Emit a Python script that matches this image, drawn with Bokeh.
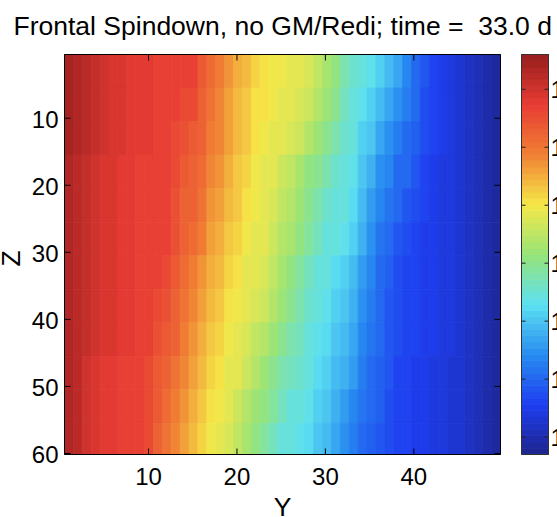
import numpy as np
from bokeh.plotting import figure
from bokeh.models import Range1d, ColumnDataSource, LinearColorMapper
from bokeh.embed import file_html
from bokeh.resources import INLINE
from bokeh.core.properties import value

# ---------------- data ----------------
title_text = "Frontal Spindown, no GM/Redi; time =  33.0 d"
x_label, z_label = "Y", "Z"
y_ticks = [10, 20, 30, 40]
z_ticks = [10, 20, 30, 40, 50, 60]
cbar_ticks = [11, 12, 13, 14, 15, 16, 17]
cbar_tick_labels = ["11", "12", "13", "14", "15", "16", "17"]
T_LOW, T_HIGH = 10.7, 17.6

# grid: 49 columns in Y, 12 depth bands in Z
y_edges = list(np.linspace(0.5, 49.8, 50))
z_edges = [0.5, 5.5, 10.5, 15.5, 20.5, 25.5, 30.5, 35.5, 40.5, 45.5, 50.5, 55.5, 60.5]

# temperature for each Y column (1..49), listed from the top band to the bottom band
temp_by_column = [
    [17.4, 17.4, 17.4, 17.3, 17.3, 17.3, 17.3, 17.3, 17.3, 17.3, 17.3, 17.3],
    [17.3, 17.3, 17.3, 17.2, 17.2, 17.2, 17.2, 17.2, 17.2, 17.2, 17.2, 17.2],
    [17.2, 17.2, 17.2, 17.1, 17.1, 17.1, 17.1, 17.1, 17.1, 17.0, 17.0, 17.0],
    [17.1, 17.1, 17.1, 17.0, 17.0, 17.0, 17.0, 17.0, 17.0, 16.9, 16.9, 16.9],
    [17.0, 17.0, 17.0, 16.9, 16.9, 16.9, 16.9, 16.9, 16.9, 16.8, 16.8, 16.8],
    [16.9, 16.9, 16.9, 16.9, 16.9, 16.9, 16.9, 16.9, 16.9, 16.8, 16.8, 16.8],
    [16.9, 16.9, 16.9, 16.8, 16.8, 16.8, 16.8, 16.8, 16.8, 16.7, 16.7, 16.7],
    [16.8, 16.8, 16.8, 16.8, 16.8, 16.8, 16.8, 16.8, 16.8, 16.7, 16.7, 16.7],
    [16.8, 16.8, 16.8, 16.7, 16.7, 16.7, 16.7, 16.7, 16.7, 16.7, 16.7, 16.7],
    [16.8, 16.8, 16.8, 16.7, 16.7, 16.7, 16.7, 16.7, 16.7, 16.6, 16.6, 16.6],
    [16.7, 16.7, 16.7, 16.7, 16.7, 16.7, 16.7, 16.6, 16.5, 16.4, 16.4, 16.3],
    [16.7, 16.7, 16.7, 16.7, 16.7, 16.7, 16.6, 16.5, 16.4, 16.2, 16.1, 16.0],
    [16.7, 16.7, 16.6, 16.6, 16.5, 16.5, 16.4, 16.3, 16.2, 16.0, 15.9, 15.8],
    [16.7, 16.6, 16.5, 16.4, 16.3, 16.2, 16.1, 16.0, 15.9, 15.8, 15.7, 15.6],
    [16.7, 16.6, 16.4, 16.3, 16.2, 16.1, 15.9, 15.8, 15.7, 15.6, 15.5, 15.4],
    [16.4, 16.3, 16.2, 16.1, 16.0, 15.9, 15.7, 15.6, 15.5, 15.4, 15.3, 15.2],
    [16.1, 16.0, 15.9, 15.8, 15.7, 15.6, 15.5, 15.4, 15.3, 15.2, 15.1, 15.0],
    [15.9, 15.8, 15.8, 15.7, 15.6, 15.5, 15.4, 15.3, 15.2, 15.1, 15.0, 14.9],
    [15.7, 15.6, 15.6, 15.5, 15.4, 15.3, 15.2, 15.1, 15.0, 14.9, 14.8, 14.7],
    [15.5, 15.4, 15.4, 15.3, 15.3, 15.2, 15.1, 15.0, 14.9, 14.8, 14.6, 14.5],
    [15.4, 15.3, 15.3, 15.2, 15.1, 15.0, 14.9, 14.8, 14.7, 14.6, 14.4, 14.3],
    [15.2, 15.1, 15.1, 15.0, 15.0, 14.9, 14.8, 14.7, 14.5, 14.4, 14.2, 14.1],
    [15.1, 15.1, 15.0, 14.9, 14.9, 14.8, 14.7, 14.6, 14.4, 14.2, 14.1, 13.9],
    [15.0, 15.0, 14.9, 14.8, 14.7, 14.6, 14.5, 14.4, 14.2, 14.0, 13.9, 13.7],
    [15.0, 14.9, 14.8, 14.6, 14.5, 14.4, 14.3, 14.2, 14.0, 13.8, 13.7, 13.5],
    [14.9, 14.8, 14.7, 14.5, 14.4, 14.3, 14.1, 14.0, 13.8, 13.7, 13.5, 13.4],
    [14.9, 14.7, 14.6, 14.3, 14.2, 14.1, 13.9, 13.8, 13.7, 13.6, 13.4, 13.3],
    [14.7, 14.6, 14.4, 14.1, 14.0, 13.9, 13.7, 13.6, 13.5, 13.4, 13.3, 13.2],
    [14.5, 14.4, 14.2, 14.0, 13.8, 13.7, 13.5, 13.4, 13.3, 13.2, 13.1, 13.0],
    [14.3, 14.2, 14.0, 13.8, 13.6, 13.5, 13.4, 13.3, 13.2, 13.1, 13.0, 12.9],
    [14.1, 14.0, 13.8, 13.6, 13.5, 13.4, 13.2, 13.1, 13.0, 12.9, 12.8, 12.7],
    [13.8, 13.7, 13.6, 13.5, 13.4, 13.3, 13.1, 13.0, 12.9, 12.8, 12.6, 12.5],
    [13.6, 13.5, 13.4, 13.3, 13.2, 13.1, 12.9, 12.8, 12.7, 12.6, 12.4, 12.3],
    [13.4, 13.3, 13.1, 13.0, 12.9, 12.8, 12.6, 12.5, 12.4, 12.3, 12.2, 12.1],
    [13.3, 13.1, 13.0, 12.8, 12.6, 12.5, 12.4, 12.3, 12.2, 12.1, 12.0, 11.9],
    [13.1, 12.9, 12.7, 12.5, 12.4, 12.2, 12.1, 12.0, 12.0, 11.9, 11.9, 11.8],
    [12.9, 12.7, 12.5, 12.4, 12.2, 12.0, 11.9, 11.8, 11.8, 11.8, 11.7, 11.7],
    [12.7, 12.5, 12.3, 12.1, 12.0, 11.8, 11.7, 11.7, 11.7, 11.6, 11.6, 11.6],
    [12.4, 12.3, 12.1, 12.0, 11.8, 11.7, 11.6, 11.6, 11.6, 11.6, 11.6, 11.6],
    [12.1, 12.0, 11.9, 11.8, 11.7, 11.6, 11.6, 11.6, 11.6, 11.5, 11.5, 11.5],
    [11.8, 11.7, 11.7, 11.6, 11.6, 11.5, 11.5, 11.5, 11.5, 11.5, 11.5, 11.5],
    [11.6, 11.6, 11.6, 11.5, 11.5, 11.5, 11.5, 11.5, 11.5, 11.4, 11.4, 11.4],
    [11.5, 11.5, 11.5, 11.4, 11.4, 11.4, 11.4, 11.4, 11.4, 11.4, 11.4, 11.4],
    [11.4, 11.4, 11.4, 11.4, 11.4, 11.4, 11.4, 11.4, 11.4, 11.3, 11.3, 11.3],
    [11.3, 11.3, 11.3, 11.3, 11.3, 11.3, 11.3, 11.3, 11.3, 11.3, 11.3, 11.3],
    [11.2, 11.2, 11.2, 11.2, 11.2, 11.2, 11.2, 11.2, 11.2, 11.2, 11.2, 11.2],
    [11.1, 11.1, 11.1, 11.1, 11.1, 11.1, 11.1, 11.1, 11.1, 11.1, 11.1, 11.1],
    [11.0, 11.0, 11.0, 11.0, 11.0, 11.0, 11.0, 11.0, 11.0, 11.0, 11.0, 11.0],
    [10.9, 10.9, 10.9, 10.9, 10.9, 10.9, 10.9, 10.9, 10.9, 10.9, 10.9, 10.9],
]

# ---------------- layout / styling ----------------
FONT = "Liberation Sans"
W, H = 557, 517
BOX_L, BOX_R, BOX_T, BOX_B = 64, 500, 54, 454   # image box in canvas pixels
Y0, Y1 = 0.5, 49.8                              # image extent in Y
Z0, Z1 = 0.5, 60.15                             # axis extent in Z
PX_PER_Y = (BOX_R - BOX_L) / (Y1 - Y0)
PX_PER_Z = (BOX_B - BOX_T) / (Z1 - Z0)
X_START = Y0 - BOX_L / PX_PER_Y
X_END = Y0 + (W - BOX_L) / PX_PER_Y
Z_TOP = Z0 - BOX_T / PX_PER_Z
Z_BOTTOM = Z0 + (H - BOX_T) / PX_PER_Z

def px_x(px):
    return X_START + px / PX_PER_Y

def px_z(py):
    return Z_TOP + py / PX_PER_Z

# jet-like palette, as it appears in the reference
anc_f = [0, .125, .25, .375, .5, .625, .75, .875, 1]
anc_c = [(30, 36, 140), (30, 62, 240), (40, 140, 240), (92, 224, 242), (150, 228, 120),
         (246, 232, 72), (240, 128, 52), (232, 60, 52), (150, 30, 30)]
palette = []
for i in range(64):
    f = (i + 0.5) / 64
    r, g, b = (int(round(np.interp(f, anc_f, [c[k] for c in anc_c]))) for k in range(3))
    palette.append("#%02x%02x%02x" % (r, g, b))
mapper = LinearColorMapper(palette=palette, low=T_LOW, high=T_HIGH)

p = figure(width=W, height=H, output_backend="svg", toolbar_location=None,
           x_range=Range1d(X_START, X_END), y_range=Range1d(Z_BOTTOM, Z_TOP),
           x_axis_location=None, y_axis_location=None, title_location=None,
           min_border=0, min_border_left=0, min_border_right=0,
           min_border_top=0, min_border_bottom=0)
p.outline_line_color = None
p.background_fill_color = "white"
p.border_fill_color = "white"
p.xgrid.visible = False
p.ygrid.visible = False
for g in list(p.center):
    g.visible = False

# field cells
left, right, top, bottom, temp = [], [], [], [], []
for j, col in enumerate(temp_by_column):
    for k, t in enumerate(col):
        left.append(y_edges[j]); right.append(y_edges[j + 1])
        top.append(z_edges[k]); bottom.append(min(z_edges[k + 1], Z1))
        temp.append(t)
src = ColumnDataSource(dict(left=left, right=right, top=top, bottom=bottom, T=temp))
p.quad(left="left", right="right", top="top", bottom="bottom", source=src,
       fill_color={"field": "T", "transform": mapper},
       line_color={"field": "T", "transform": mapper}, line_width=0.8)

# image box and tick marks on all four sides (pointing inwards)
p.quad(left=[Y0], right=[Y1], top=[Z0], bottom=[Z1], fill_color=None,
       line_color="black", line_width=1)
tick_y = 6 / PX_PER_Y
tick_z = 6 / PX_PER_Z
ny, nz = len(y_ticks), len(z_ticks)
p.segment(x0=y_ticks, x1=y_ticks, y0=[Z0] * ny, y1=[Z0 + tick_z] * ny, line_color="black")
p.segment(x0=y_ticks, x1=y_ticks, y0=[Z1] * ny, y1=[Z1 - tick_z] * ny, line_color="black")
p.segment(x0=[Y0] * nz, x1=[Y0 + tick_y] * nz, y0=z_ticks, y1=z_ticks, line_color="black")
p.segment(x0=[Y1] * nz, x1=[Y1 - tick_y] * nz, y0=z_ticks, y1=z_ticks, line_color="black")

# tick labels (vertically centred on their positions)
fs = value("24px")
p.text(x=y_ticks, y=[px_z(476)] * ny, text=[str(t) for t in y_ticks],
       text_font=value(FONT), text_font_size=fs, text_align="center",
       text_baseline="middle", text_color="black")
p.text(x=[px_x(58)] * nz, y=[z + 1.5 / PX_PER_Z for z in z_ticks], text=[str(t) for t in z_ticks],
       text_font=value(FONT), text_font_size=fs, text_align="right",
       text_baseline="middle", text_color="black")

# colour bar
cb_l, cb_r = px_x(521), px_x(548)
def t_to_z(t):
    return Z1 - (t - T_LOW) / (T_HIGH - T_LOW) * (Z1 - Z0)
lv = np.linspace(T_LOW, T_HIGH, 65)
p.quad(left=[cb_l] * 64, right=[cb_r] * 64, bottom=[t_to_z(v) for v in lv[:-1]],
       top=[t_to_z(v) for v in lv[1:]], fill_color=palette, line_color=palette, line_width=0.8)
p.quad(left=[cb_l], right=[cb_r], top=[Z0], bottom=[Z1], fill_color=None,
       line_color="#333333", line_width=1)
cz = [t_to_z(v) for v in cbar_ticks]
nc = len(cz)
ct = 4 / PX_PER_Y
p.segment(x0=[cb_l] * nc, x1=[cb_l + ct] * nc, y0=cz, y1=cz, line_color="#222222")
p.segment(x0=[cb_r - ct] * nc, x1=[cb_r] * nc, y0=cz, y1=cz, line_color="#222222")
p.text(x=[px_x(550)] * nc, y=cz, text=cbar_tick_labels,
       text_font=value(FONT), text_font_size=fs, text_baseline="middle",
       text_align="left", text_color="black")

# title and axis labels
p.text(x=[px_x(13)], y=[px_z(25)], text=[title_text.replace("  ", " \u00a0")],
       text_font=value(FONT), text_font_size=value("26.5px"), text_align="left",
       text_baseline="middle", text_color="black")
p.text(x=[(Y0 + Y1) / 2], y=[px_z(506)], text=[x_label], text_font=value(FONT),
       text_font_size=value("26.5px"), text_align="center", text_baseline="middle",
       text_color="black")
p.text(x=[px_x(10)], y=[px_z(258)], text=[z_label], text_font=value(FONT),
       text_font_size=value("26.5px"), text_align="center", text_baseline="middle",
       angle=np.pi / 2, text_color="black")

open("out.html", "w").write(file_html(p, INLINE))
